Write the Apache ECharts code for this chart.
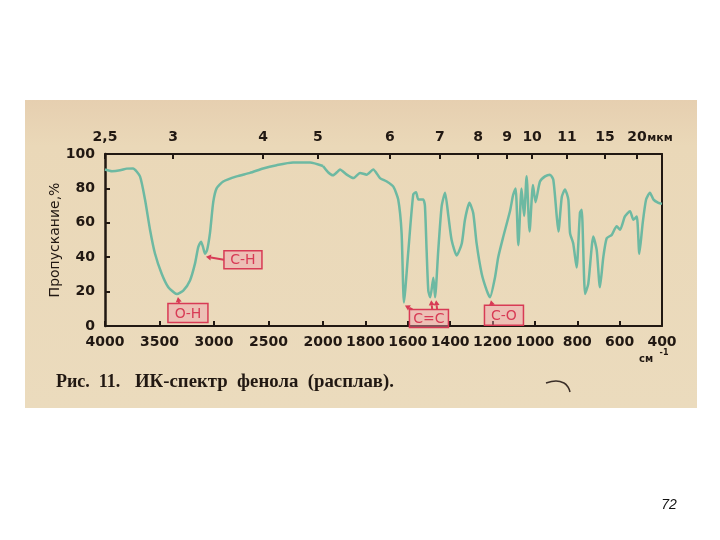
<!DOCTYPE html>
<html><head><meta charset="utf-8">
<script src="https://cdn.jsdelivr.net/npm/echarts@6/dist/echarts.min.js"></script>
<style>html,body{margin:0;padding:0;background:#fff}#c{width:720px;height:540px}</style>
</head><body><div id="c"></div>
<script>
// ---- data ----
const wavenumber = [4000,3936,3862,3800,3743,3679,3633,3587,3541,3480,3419,3358,3340,3282,3220,3174,3144,3119,3101,3083,3064,3037,3007,2976,2915,2792,2670,2550,2425,2275,2119,2000,
 1976,1953,1929,1920,1888,1857,1825,1794,1763,1731,1699,1668,1645,1629,1618,1597,1574,1561,1550,1527,1519,1511,1503,1494,1479,1471,1456,1440,1424,1408,1393,1369,1345,1330,1309,1291,1275,1251,1227,1212,1188,1173,1149,
 1117,1103,1091,1078,1063,1051,1039,1025,1009,997,976,952,929,913,897,889,873,858,842,834,819,803,787,779,763,748,724,708,693,677,661,637,614,598,575,551,535,519,507,491,475,457,440,417,400];
const transmittance = [91,90,90.5,91.5,91.6,87,73.5,56,42,30.4,22.5,19,18.6,20.6,26.5,36.4,46,49,46,42,44,54,72,80,84,87,89,91.6,93.5,95,95,93,
 89.4,87.6,90,91,88,86,89,88,91,86,84,81,73.5,54,13.7,44,76.5,77.8,73.5,73.5,70,44,20.6,16.7,28,16.7,44,69.6,77.5,63.7,50,41,48,61.8,71.6,65.7,48,30.4,20.6,16.7,28.4,40,52,
 67,76,80,47,80,64,87,55,82,72,84,87,88,85,64,55,75,79.4,73.5,54,48,34,66,67.6,18.6,24.5,52,44,22.5,40,51,53,58,56,63.7,66.7,61.8,63.7,42,60,73.5,77.5,73.5,71.6,71];
const bottomTicksHigh = [2000, 4000, 500];   // min, max, step (cm-1)
const bottomTicksLow = [400, 2000, 200];
// micrometre scale: labels and the wavenumber where each printed tick sits
const micronLabels = ['2,5','3','4','5','6','7','8','9','10','11','15','20'];
const micronTickWn = [4000,3376,2550,2046,1684,1448,1268,1131,1013,848,669,518];
const yTicks = [0, 100, 20];
const annotations = [
  {text:'С-Н', targets:[[3083,42]], box:[38,18], off:[38,6]},
  {text:'О-Н', targets:[[3340,18.6]], box:[40,19], off:[11,19]},
  {text:'С=С', targets:[[1618,13.7],[1494,16.7],[1471,16.7]], box:[39,18], off:[25,16]},
  {text:'С-О', targets:[[1212,16.7]], box:[39,20], off:[14,18]}
];

const ink = '#211812';
const lineColor = '#6db9a2';
const red = '#d83a55';

const high = [], low = [];
wavenumber.forEach((w,i)=>{
  if (w >= 2000) high.push([w, transmittance[i]]);
  if (w <= 2000) low.push([w, transmittance[i]]);
});
function micronFmt(v){
  let best = 0, d = Infinity;
  micronTickWn.forEach((p,i)=>{ const dd = Math.abs(p - v); if (dd < d){d = dd; best = i;} });
  return micronLabels[best];
}
const plainFmt = v => String(v);
const labelFont = {fontFamily:'DejaVu Sans', fontWeight:'bold', fontSize:14, color:ink};
const axisLineStyle = {color:ink, width:2};
const topHigh = micronTickWn.filter(p=>p>=2000), topLow = micronTickWn.filter(p=>p<2000);

const chart = echarts.init(document.getElementById('c'), null, {renderer:'canvas'});
const option = {
  animation:false,
  backgroundColor:'#ffffff',
  grid:[
    {left:105, top:154, width:218, height:172},
    {left:323, top:154, width:339, height:172}
  ],
  xAxis:[
    {gridIndex:0, type:'value', position:'bottom', inverse:true, min:bottomTicksHigh[0], max:bottomTicksHigh[1], interval:bottomTicksHigh[2],
     axisLine:{lineStyle:axisLineStyle}, axisTick:{inside:true, length:5, lineStyle:{color:ink,width:2}},
     axisLabel:Object.assign({margin:9, formatter:plainFmt}, labelFont), splitLine:{show:false}},
    {gridIndex:1, type:'value', position:'bottom', inverse:true, min:bottomTicksLow[0], max:bottomTicksLow[1], interval:bottomTicksLow[2],
     axisLine:{lineStyle:axisLineStyle}, axisTick:{inside:true, length:5, lineStyle:{color:ink,width:2}},
     axisLabel:Object.assign({margin:9, showMaxLabel:false, formatter:plainFmt}, labelFont), splitLine:{show:false}},
    {gridIndex:0, type:'value', position:'top', inverse:true, min:bottomTicksHigh[0], max:bottomTicksHigh[1],
     axisLine:{lineStyle:axisLineStyle},
     axisTick:{inside:true, length:5, lineStyle:{color:ink,width:2}, customValues:topHigh},
     axisLabel:Object.assign({margin:10, customValues:topHigh, formatter:micronFmt}, labelFont), splitLine:{show:false}},
    {gridIndex:1, type:'value', position:'top', inverse:true, min:bottomTicksLow[0], max:bottomTicksLow[1],
     axisLine:{lineStyle:axisLineStyle},
     axisTick:{inside:true, length:5, lineStyle:{color:ink,width:2}, customValues:topLow},
     axisLabel:Object.assign({margin:10, customValues:topLow, formatter:micronFmt}, labelFont), splitLine:{show:false}}
  ],
  yAxis:[
    {gridIndex:0, type:'value', min:yTicks[0], max:yTicks[1], interval:yTicks[2],
     name:'Пропускание,%', nameLocation:'middle', nameGap:34, nameRotate:90,
     nameTextStyle:{fontFamily:'DejaVu Sans', fontSize:14, color:ink},
     axisLine:{show:true, lineStyle:{color:ink, width:2.5}}, axisTick:{show:true, inside:true, length:5, lineStyle:{color:ink,width:2}},
     axisLabel:Object.assign({margin:10}, labelFont), splitLine:{show:false}},
    {gridIndex:1, type:'value', position:'right', min:yTicks[0], max:yTicks[1], interval:yTicks[2],
     axisLine:{show:true, lineStyle:axisLineStyle}, axisTick:{show:false}, axisLabel:{show:false}, splitLine:{show:false}}
  ],
  series:[
    {type:'line', xAxisIndex:0, yAxisIndex:0, data:high, showSymbol:false, smooth:0.2, lineStyle:{color:lineColor, width:2.5}, z:3},
    {type:'line', xAxisIndex:2, yAxisIndex:0, data:[], showSymbol:false},
    {type:'line', xAxisIndex:1, yAxisIndex:1, data:low, showSymbol:false, smooth:0.2, lineStyle:{color:lineColor, width:2.5}, z:3},
    {type:'line', xAxisIndex:3, yAxisIndex:1, data:[], showSymbol:false}
  ]
};
chart.setOption(option);

// ---- annotations & page texts ----
function arrow(x1,y1,x2,y2){
  const a = Math.atan2(y2-y1, x2-x1), h = 5, w = 3;
  const bx = x2 - h*Math.cos(a), by = y2 - h*Math.sin(a);
  return [
    {type:'line', shape:{x1:x1,y1:y1,x2:bx,y2:by}, style:{stroke:red, lineWidth:2}, z:20},
    {type:'polygon', shape:{points:[[x2,y2],[bx - w*Math.sin(a), by + w*Math.cos(a)],[bx + w*Math.sin(a), by - w*Math.cos(a)]]}, style:{fill:red}, z:20}
  ];
}
const g = [
  {type:'rect', shape:{x:25,y:100,width:672,height:308}, z:-100,
   style:{fill:new echarts.graphic.LinearGradient(0,0,0,1,[{offset:0,color:'#e6cfb0'},{offset:0.15,color:'#ead8b8'},{offset:1,color:'#ebdbbd'}])}},
  {type:'text', x:660, y:138, z:10, style:{text:'мкм', font:'bold 11px "DejaVu Sans"', fill:ink, align:'center', verticalAlign:'middle'}},
  {type:'text', x:646, y:359, z:10, style:{text:'см', font:'bold 10px "DejaVu Sans"', fill:ink, align:'center', verticalAlign:'middle'}},
  {type:'text', x:664, y:353, z:10, style:{text:'-1', font:'bold 8px "DejaVu Sans"', fill:ink, align:'center', verticalAlign:'middle'}},
  {type:'text', x:56, y:382, z:10, style:{text:'Рис.  11.', font:'bold 18px "Liberation Serif"', fill:ink, align:'left', verticalAlign:'middle'}},
  {type:'text', x:135, y:382, z:10, style:{text:'ИК-спектр  фенола  (расплав).', font:'bold 18.8px "Liberation Serif"', fill:ink, align:'left', verticalAlign:'middle'}},
  {type:'polyline', z:10, shape:{points:[[546,383],[556,381],[564,383],[568,387],[570,392]], smooth:0.4}, style:{stroke:'#3a2e28', lineWidth:1.5, fill:null}},
  {type:'text', x:669, y:505, z:10, style:{text:'72', font:'italic 14px "Liberation Sans"', fill:'#111', align:'center', verticalAlign:'middle'}}
];
annotations.forEach(an=>{
  const xi = an.targets[0][0] >= 2000 ? 0 : 1;
  const pts = an.targets.map(t => chart.convertToPixel({xAxisIndex:xi, yAxisIndex:xi}, t));
  const cx = pts[0][0] + an.off[0], cy = pts[0][1] + an.off[1];
  const bw = an.box[0], bh = an.box[1];
  g.push({type:'rect', shape:{x:cx-bw/2, y:cy-bh/2, width:bw, height:bh}, z:15,
          style:{fill:'rgba(240,160,175,0.45)', stroke:red, lineWidth:1.5}});
  g.push({type:'text', x:cx, y:cy+1, z:16, style:{text:an.text, font:'14px "DejaVu Sans"', fill:red, align:'center', verticalAlign:'middle'}});
  pts.forEach(p=>{
    let sx, sy;
    if (an.off[1] < 10 && an.off[0] > 20) { sx = cx - bw/2; sy = cy; }
    else { sx = Math.max(cx-bw/2+3, Math.min(cx+bw/2-3, p[0]+2)); sy = cy - bh/2; }
    g.push.apply(g, arrow(sx, sy, p[0]+1, p[1]+3));
  });
});
chart.setOption({graphic:g});
</script>
</body></html>
